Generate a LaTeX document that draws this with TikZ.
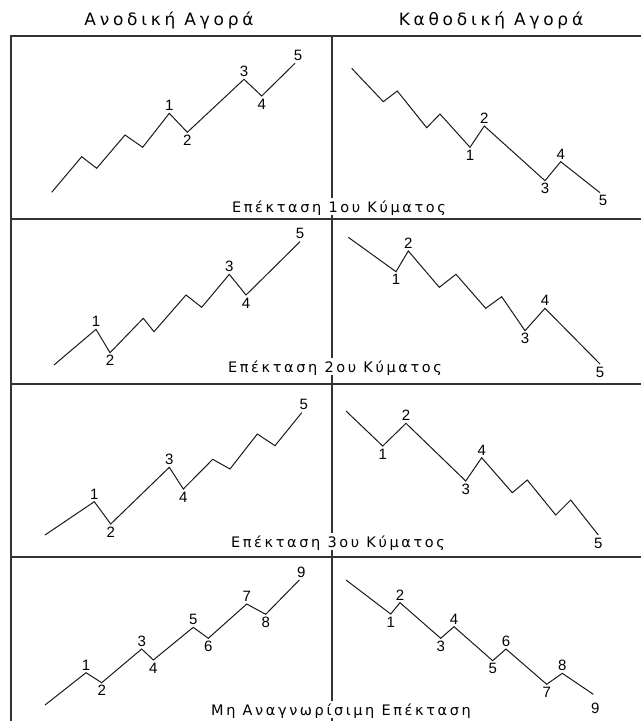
\documentclass[tikz,border=0pt]{standalone}
\usepackage{fontspec}
\setmainfont{DejaVu Sans}
\newfontfamily\headfont[LetterSpace=22]{DejaVu Sans}
\newfontfamily\captfont[LetterSpace=18]{DejaVu Sans}
\newfontfamily\numfont{Liberation Sans}

\begin{document}
\begin{tikzpicture}[
  x=1pt, y=-1pt,
  frame/.style={draw=black!80, line width=1.4pt},
  wave/.style={draw=black!90, line width=1pt, line join=miter},
  lab/.style={font=\numfont\fontsize{15}{15}\selectfont, inner sep=2.2pt},
  head/.style={font=\headfont\fontsize{17}{17}\selectfont, inner sep=0pt, anchor=base},
  capt/.style={font=\captfont\fontsize{14.5}{14.5}\selectfont, fill=white, anchor=base,
    text height=13pt, text depth=2pt, inner xsep=1pt, inner ysep=1pt}
]
\useasboundingbox (0,0) rectangle (641,721);

% frame and panels
\draw[frame] (11,721) -- (11,36) -- (641,36);
\draw[frame] (11,219) -- (641,219);
\draw[frame] (11,384) -- (641,384);
\draw[frame] (11,557) -- (641,557);
\draw[frame] (332,36) -- (332,721);

% column titles
\node[head] (bull) at (169,25) {Ανοδική Αγορά};
\node[head] (bear) at (491,25) {Καθοδική Αγορά};

% row 1: extension of wave 1
\draw[wave] (51.7,192.3) -- (81.7,156.7) -- (96.7,168.3) -- (125,135) -- (142.7,147.3)
  -- (169.3,113.3) node[lab,above] (ua1) {1}
  -- (187.3,132.3) node[lab,below] (ua2) {2}
  -- (244,79.3) node[lab,above] (ua3) {3}
  -- (261.7,96) node[lab,below] (ua4) {4}
  -- (295,63.3) node[lab,above,xshift=3pt] (ua5) {5};
\draw[wave] (351.7,68.3) -- (383.3,101.7) -- (397.3,91) -- (426.7,127.7) -- (440,114)
  -- (470,147.3) node[lab,below] (da1) {1}
  -- (484.3,126) node[lab,above] (da2) {2}
  -- (545,180.7) node[lab,below] (da3) {3}
  -- (560.7,161.7) node[lab,above] (da4) {4}
  -- (600,192.7) node[lab,below,xshift=3pt] (da5) {5};
\node[capt] (cap1) at (339,212) {Επέκταση 1ου Κύματος};

% row 2: extension of wave 2
\draw[wave] (54,365)
  -- (96,329.3) node[lab,above] (ub1) {1}
  -- (110,352.7) node[lab,below] (ub2) {2}
  -- (143.3,318.3) -- (154,331.7) -- (186,295) -- (201.7,307.3)
  -- (229.3,274.3) node[lab,above] (ub3) {3}
  -- (246,295) node[lab,below] (ub4) {4}
  -- (300,241.7) node[lab,above] (ub5) {5};
\draw[wave] (348.3,237.3)
  -- (396,271.7) node[lab,below] (db1) {1}
  -- (408.3,251) node[lab,above] (db2) {2}
  -- (439.3,287.3) -- (456,274.3) -- (485.7,308.3) -- (501.7,296.7)
  -- (525,330.7) node[lab,below] (db3) {3}
  -- (545,308.3) node[lab,above] (db4) {4}
  -- (600,364) node[lab,below] (db5) {5};
\node[capt] (cap2) at (335,372) {Επέκταση 2ου Κύματος};

% row 3: extension of wave 3
\draw[wave] (45,535)
  -- (94.3,501.7) node[lab,above] (uc1) {1}
  -- (110.7,524) node[lab,below] (uc2) {2}
  -- (169.3,467.3) node[lab,above] (uc3) {3}
  -- (183.3,489) node[lab,below] (uc4) {4}
  -- (212.7,459.3) -- (230,469) -- (257.3,434) -- (275,445.7)
  -- (301.7,412.7) node[lab,above,xshift=2pt] (uc5) {5};
\draw[wave] (346,411)
  -- (382.7,446) node[lab,below] (dc1) {1}
  -- (406,423.3) node[lab,above] (dc2) {2}
  -- (465.7,481) node[lab,below] (dc3) {3}
  -- (481.7,457.7) node[lab,above] (dc4) {4}
  -- (512.3,492.7) -- (527.3,480) -- (555.7,515) -- (570.7,500)
  -- (598.3,535) node[lab,below] (dc5) {5};
\node[capt] (cap3) at (338,547) {Επέκταση 3ου Κύματος};

% row 4: extension not recognisable
\draw[wave] (45,705)
  -- (86,672.7) node[lab,above] (ud1) {1}
  -- (101.7,682.7) node[lab,below] (ud2) {2}
  -- (141.7,649) node[lab,above] (ud3) {3}
  -- (153.3,660) node[lab,below] (ud4) {4}
  -- (193.3,627.3) node[lab,above] (ud5) {5}
  -- (208.3,638.3) node[lab,below] (ud6) {6}
  -- (246.7,604) node[lab,above] (ud7) {7}
  -- (265.7,614.3) node[lab,below] (ud8) {8}
  -- (299.3,580) node[lab,above,xshift=2pt] (ud9) {9};
\draw[wave] (346,580)
  -- (390.7,614) node[lab,below] (dd1) {1}
  -- (400,602.7) node[lab,above] (dd2) {2}
  -- (440.7,638.3) node[lab,below] (dd3) {3}
  -- (454,626.7) node[lab,above] (dd4) {4}
  -- (492.7,660.7) node[lab,below] (dd5) {5}
  -- (506,649) node[lab,above] (dd6) {6}
  -- (546.7,684.3) node[lab,below] (dd7) {7}
  -- (562.3,673.3) node[lab,above] (dd8) {8}
  -- (593.3,694.3) node[lab,below,yshift=-6pt,xshift=2pt] (dd9) {9};
\node[capt] (cap4) at (341,715) {Μη Αναγνωρίσιμη Επέκταση};
\end{tikzpicture}
\end{document}
